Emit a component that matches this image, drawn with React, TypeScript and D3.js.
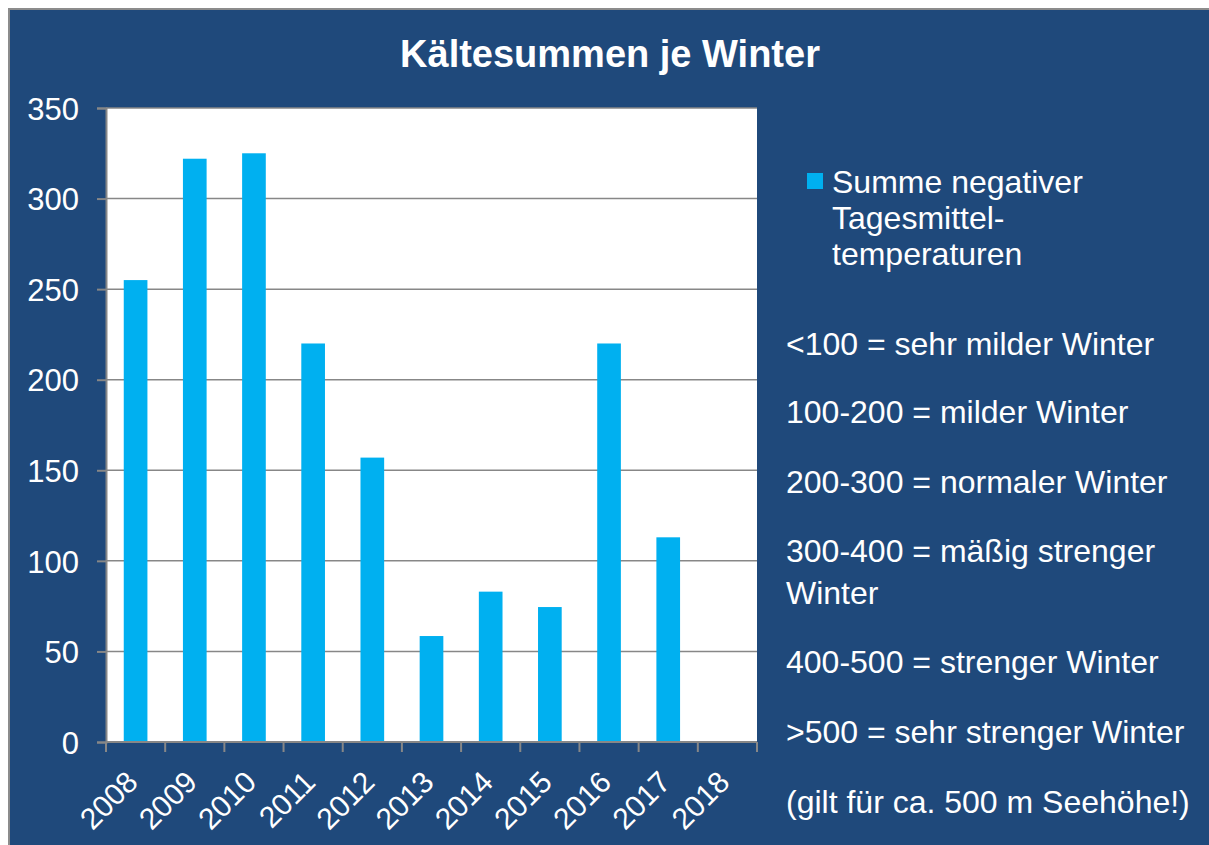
import { useEffect, useRef } from "react";
import * as d3 from "d3";

const years = ["2008", "2009", "2010", "2011", "2012", "2013", "2014", "2015", "2016", "2017", "2018"];
const coldSums: (number | null)[] = [255, 322, 325, 220, 157, 58.5, 83, 74.5, 220, 113, null];
const yTicks = [0, 50, 100, 150, 200, 250, 300, 350];
const legendLabel = ["Summe negativer", "Tagesmittel-", "temperaturen"];
const notes = [
  "<100 = sehr milder Winter",
  "100-200 = milder Winter",
  "200-300 = normaler Winter",
  "300-400 = mäßig strenger",
  "Winter",
  "400-500 = strenger Winter",
  ">500 = sehr strenger Winter",
  "(gilt für ca. 500 m Seehöhe!)",
];
const noteBaselines = [355, 423, 493, 562, 604, 673, 743, 813];

export default function App() {
  const ref = useRef<SVGSVGElement>(null);

  useEffect(() => {
    const W = 1209;
    const H = 845;
    const plot = { left: 106, top: 108, right: 757, bottom: 742 };
    const font = "'Liberation Sans', Arial, sans-serif";

    const svg = d3.select(ref.current).attr("width", W).attr("height", H);
    svg.selectAll("*").remove();

    // background panel
    svg.append("rect").attr("width", W).attr("height", H).attr("fill", "#fff");
    svg
      .append("rect")
      .attr("x", 9)
      .attr("y", 9)
      .attr("width", W)
      .attr("height", H)
      .attr("fill", "#1F497B")
      .attr("stroke", "#8c8c8c")
      .attr("stroke-width", 2);

    svg
      .append("text")
      .attr("x", 610)
      .attr("y", 67)
      .attr("text-anchor", "middle")
      .attr("fill", "#fff")
      .attr("font-family", font)
      .attr("font-weight", "bold")
      .attr("font-size", 38)
      .text("Kältesummen je Winter");

    const x = d3.scaleBand().domain(years).range([plot.left, plot.right]).paddingInner(0.6).paddingOuter(0.3);
    const xOuter = d3.scaleBand().domain(years).range([plot.left, plot.right]);
    const y = d3.scaleLinear().domain([0, 350]).range([plot.bottom, plot.top]);

    svg
      .append("rect")
      .attr("x", plot.left)
      .attr("y", plot.top)
      .attr("width", plot.right - plot.left)
      .attr("height", plot.bottom - plot.top)
      .attr("fill", "#fff");

    // gridlines
    svg
      .append("g")
      .selectAll("line")
      .data(yTicks.slice(1))
      .join("line")
      .attr("x1", plot.left)
      .attr("x2", plot.right)
      .attr("y1", (d) => y(d))
      .attr("y2", (d) => y(d))
      .attr("stroke", "#878787")
      .attr("stroke-width", 1.5);

    // bars
    svg
      .append("g")
      .selectAll("rect")
      .data(years.map((yr, i) => ({ yr, v: coldSums[i] })).filter((d) => d.v != null))
      .join("rect")
      .attr("x", (d) => x(d.yr)!)
      .attr("y", (d) => y(d.v as number))
      .attr("width", x.bandwidth())
      .attr("height", (d) => plot.bottom - y(d.v as number))
      .attr("fill", "#00B0F0");

    // y axis
    const yAxis = svg
      .append("g")
      .attr("transform", `translate(${plot.left},0)`)
      .call(d3.axisLeft(y).tickValues(yTicks).tickSize(9).tickPadding(18));
    yAxis.select(".domain").attr("stroke", "#878787").attr("stroke-width", 2);
    yAxis.selectAll(".tick line").attr("stroke", "#878787").attr("stroke-width", 2);
    yAxis
      .selectAll(".tick text")
      .attr("fill", "#fff")
      .attr("font-family", font)
      .attr("font-size", 31)
      .attr("dy", "0.36em");

    // x axis
    const xAxisG = svg.append("g").attr("transform", `translate(0,${plot.bottom})`);
    xAxisG
      .append("line")
      .attr("x1", plot.left)
      .attr("x2", plot.right)
      .attr("stroke", "#878787")
      .attr("stroke-width", 2);
    const edges = years.map((yr) => xOuter(yr)!).concat([plot.right]);
    xAxisG
      .selectAll("line.tick")
      .data(edges)
      .join("line")
      .attr("class", "tick")
      .attr("x1", (d) => d)
      .attr("x2", (d) => d)
      .attr("y1", 0)
      .attr("y2", 10)
      .attr("stroke", "#878787")
      .attr("stroke-width", 2);
    xAxisG
      .selectAll("text")
      .data(years)
      .join("text")
      .attr("transform", (d) => `translate(${xOuter(d)! + xOuter.bandwidth() / 2 + 4},${42}) rotate(-45)`)
      .attr("text-anchor", "end")
      .attr("fill", "#fff")
      .attr("font-family", font)
      .attr("font-size", 30)
      .text((d) => d);

    // legend
    svg
      .append("rect")
      .attr("x", 807)
      .attr("y", 173)
      .attr("width", 16)
      .attr("height", 16)
      .attr("fill", "#00B0F0");
    svg
      .append("g")
      .selectAll("text")
      .data(legendLabel)
      .join("text")
      .attr("x", 832)
      .attr("y", (_, i) => 193 + i * 36)
      .attr("fill", "#fff")
      .attr("font-family", font)
      .attr("font-size", 32)
      .text((d) => d);

    svg
      .append("g")
      .selectAll("text")
      .data(notes)
      .join("text")
      .attr("x", 786)
      .attr("y", (_, i) => noteBaselines[i])
      .attr("fill", "#fff")
      .attr("font-family", font)
      .attr("font-size", 32)
      .text((d) => d);
  }, []);

  return <svg ref={ref} style={{ position: "absolute", left: 0, top: 0 }} />;
}
